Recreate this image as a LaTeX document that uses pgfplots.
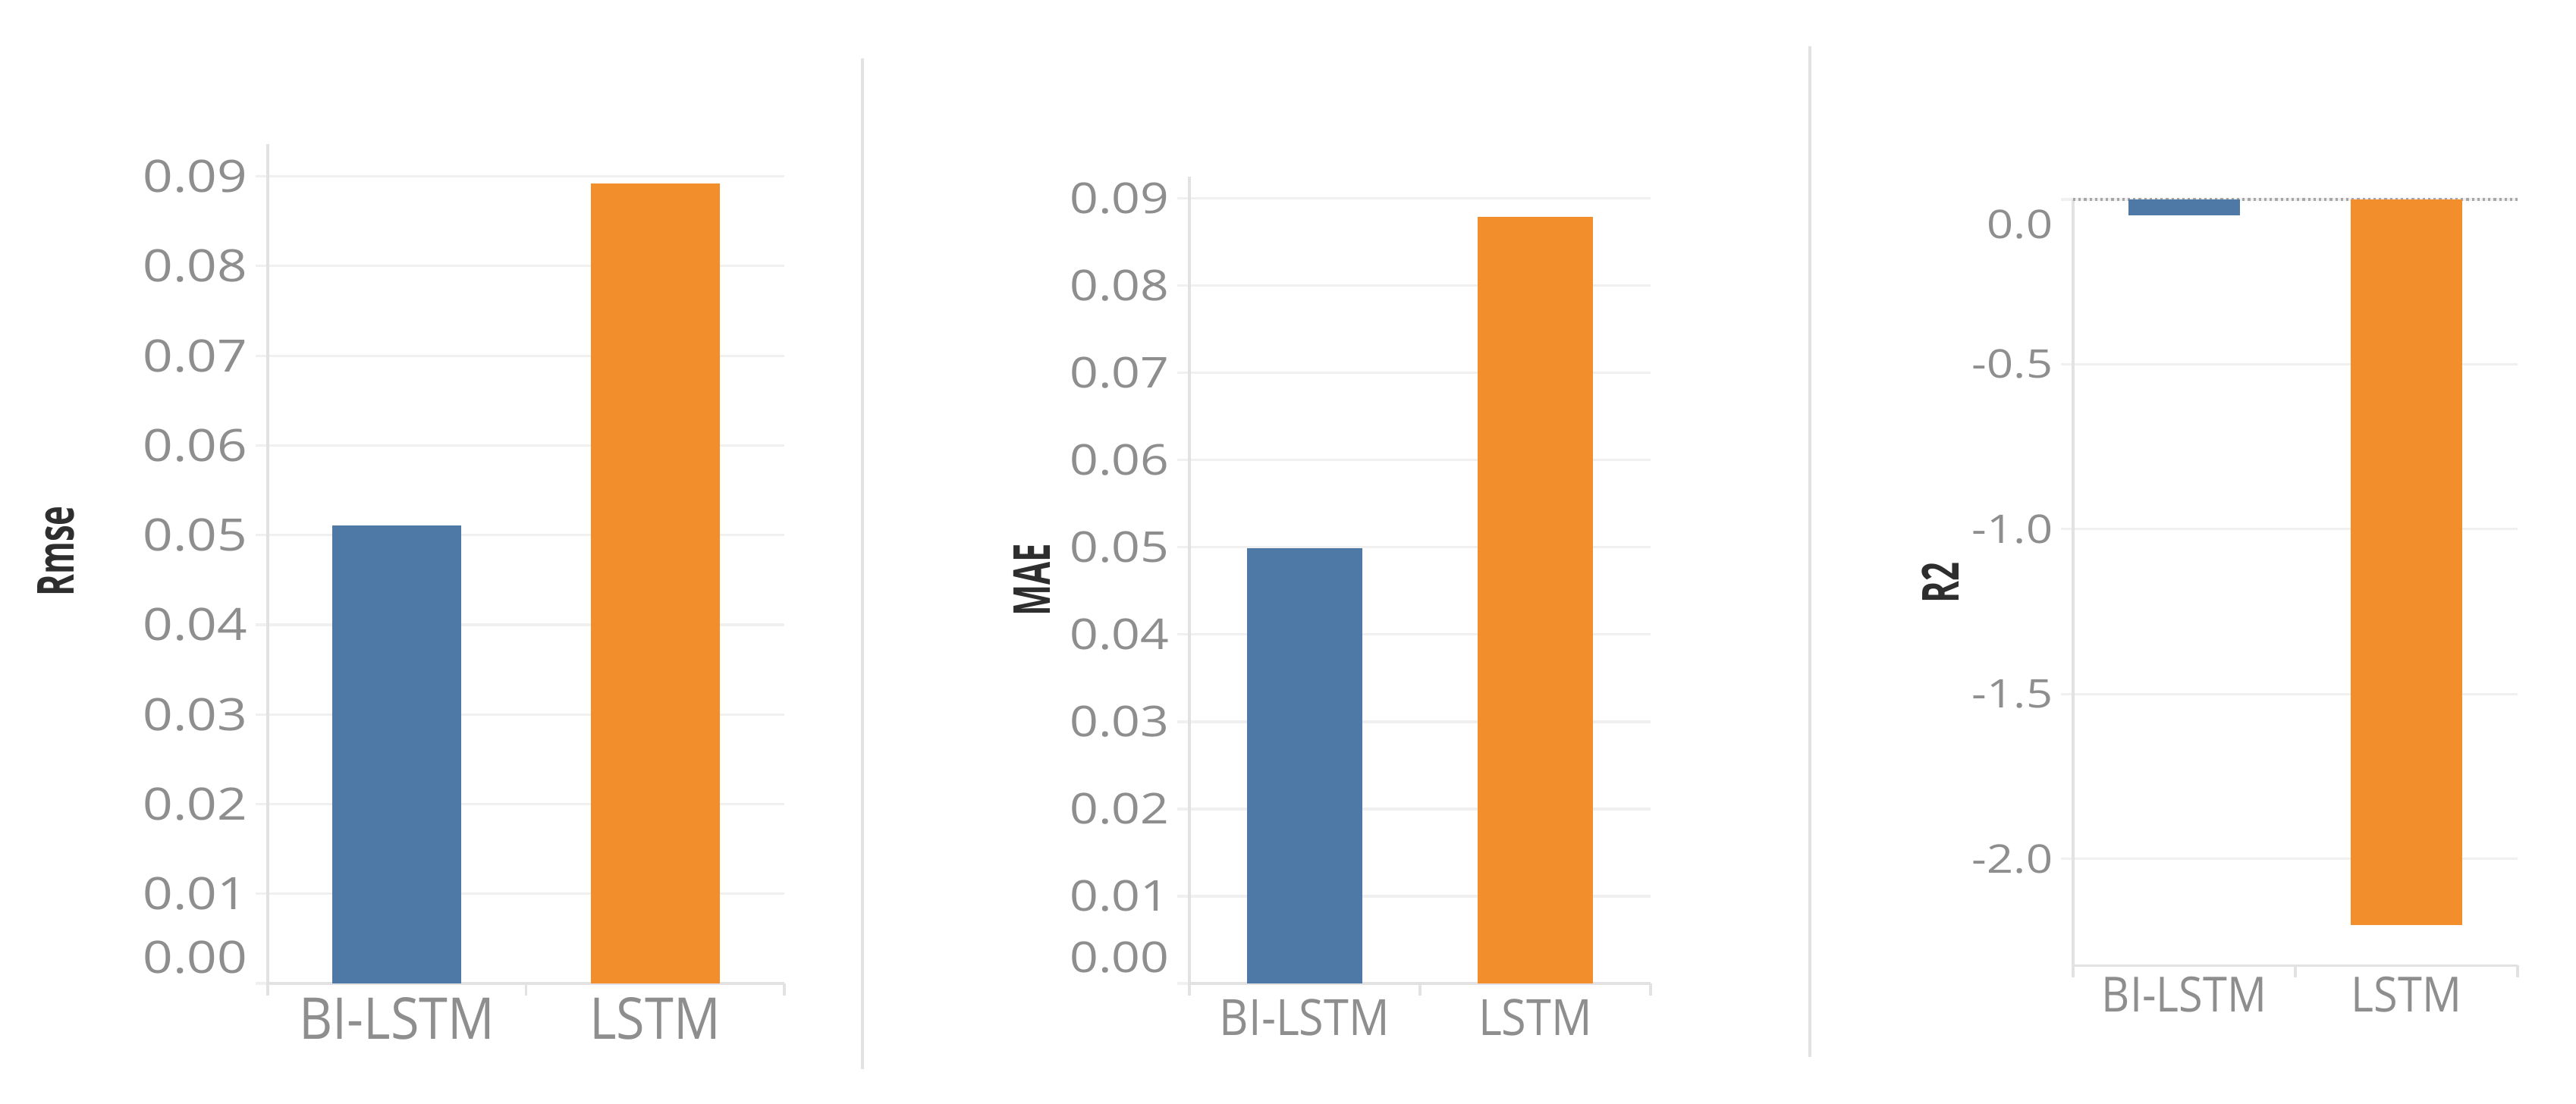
\documentclass[border=0pt]{standalone}
\usepackage{fontspec}
\setmainfont{Open Sans}
\usepackage{pgfplots}
\pgfplotsset{compat=1.18}
\newfontfamily\tickfont[FakeStretch=1.18]{Open Sans}
\newfontfamily\catfont[FakeStretch=0.9]{Open Sans}
\newfontfamily\labfont[FakeStretch=0.65]{Open Sans}

\definecolor{tblue}{HTML}{4E79A7}
\definecolor{torange}{HTML}{F28E2B}
\definecolor{ticktxt}{HTML}{8E8E8E}
\definecolor{gridc}{HTML}{F0F0F0}
\definecolor{axisc}{HTML}{E2E2E2}
\definecolor{labc}{HTML}{2E2E2E}

\pgfplotsset{
  tabpanel/.style={
    scale only axis,
    anchor=south west,
    ybar, bar width=0.5,
    xmin=-0.5, xmax=1.5,
    xtick={0,1},
    xticklabels={BI-LSTM, LSTM},
    scaled y ticks=false,
    axis x line*=bottom, axis y line*=left,
    axis line style={draw=axisc, line width=0.8pt},
    ymajorgrids, grid style={draw=gridc, line width=0.8pt},
    xtick style={draw=none},
    ytick style={draw=gridc, line width=0.8pt},
    tick align=outside, major tick length=4pt,
    extra x ticks={-0.5,0.5,1.5}, extra x tick labels={},
    extra x tick style={grid=none, xtick style={draw=axisc, line width=0.8pt}},
    yticklabel style={color=ticktxt, inner sep=0pt, anchor=east, xshift=-2.5pt},
    xticklabel style={color=ticktxt, inner sep=0pt, anchor=north},
    every axis y label/.style={rotate=90, anchor=center, color=labc},
    clip=false,
  },
}

\begin{document}
\begin{tikzpicture}
\path[use as bounding box] (0pt,0pt) rectangle (849pt,364pt);

% Rmse
\begin{axis}[tabpanel,
  at={(88.25pt,39.75pt)}, width=170.25pt, height=276.75pt,
  ymin=0, ymax=0.0936,
  ytick={0,0.01,0.02,0.03,0.04,0.05,0.06,0.07,0.08,0.09},
  yticklabels={\raisebox{8.5pt}[\height][\depth]{0.00},0.01,0.02,0.03,0.04,0.05,0.06,0.07,0.08,0.09},
  yticklabel style={font=\tickfont\fontsize{14.7pt}{16pt}\selectfont},
  xticklabel style={font=\catfont\fontsize{19pt}{21pt}\selectfont, yshift=-0.5pt},
  ylabel={Rmse},
  ylabel style={at={(rel axis cs:-0.41,0.515)}, font=\labfont\bfseries\fontsize{16.8pt}{18pt}\selectfont},
]
\addplot[fill=tblue, draw=none, bar shift=0pt] coordinates {(0,0.0511)};
\addplot[fill=torange, draw=none, bar shift=0pt] coordinates {(1,0.0892)};
\end{axis}

% MAE
\begin{axis}[tabpanel,
  at={(392pt,39.75pt)}, width=152pt, height=266pt,
  ymin=0, ymax=0.0925,
  ytick={0,0.01,0.02,0.03,0.04,0.05,0.06,0.07,0.08,0.09},
  yticklabels={\raisebox{8.5pt}[\height][\depth]{0.00},0.01,0.02,0.03,0.04,0.05,0.06,0.07,0.08,0.09},
  yticklabel style={font=\tickfont\fontsize{14pt}{16pt}\selectfont},
  xticklabel style={font=\catfont\fontsize{16.5pt}{18pt}\selectfont, yshift=-1pt},
  ylabel={MAE},
  ylabel style={at={(rel axis cs:-0.342,0.5)}, font=\labfont\bfseries\fontsize{16.8pt}{18pt}\selectfont},
]
\addplot[fill=tblue, draw=none, bar shift=0pt] coordinates {(0,0.0499)};
\addplot[fill=torange, draw=none, bar shift=0pt] coordinates {(1,0.0879)};
\end{axis}

% R2
\begin{axis}[tabpanel,
  at={(683.25pt,45.625pt)}, width=146.5pt, height=252.625pt,
  ymin=-2.324, ymax=0,
  ytick={-2,-1.5,-1,-0.5,0},
  yticklabels={-2.0,-1.5,-1.0,-0.5,\raisebox{-8.35pt}[\height][\depth]{0.0}},
  yticklabel style={font=\tickfont\fontsize{13pt}{15pt}\selectfont},
  xticklabel style={font=\catfont\fontsize{16pt}{18pt}\selectfont, yshift=0.5pt},
  ylabel={R2},
  ylabel style={at={(rel axis cs:-0.299,0.5)}, font=\labfont\bfseries\fontsize{16.8pt}{18pt}\selectfont},
]
\draw[densely dotted, gray!70, line width=0.8pt] (axis cs:-0.5,0) -- (axis cs:1.5,0);
\addplot[fill=tblue, draw=none, bar shift=0pt] coordinates {(0,-0.048)};
\addplot[fill=torange, draw=none, bar shift=0pt] coordinates {(1,-2.2)};
\end{axis}

% panel dividers
\draw[axisc, line width=1.1pt] (284.25pt,11.5pt) -- (284.25pt,344.75pt);
\draw[axisc, line width=1.1pt] (596.5pt,15.5pt) -- (596.5pt,348.75pt);
\end{tikzpicture}
\end{document}
